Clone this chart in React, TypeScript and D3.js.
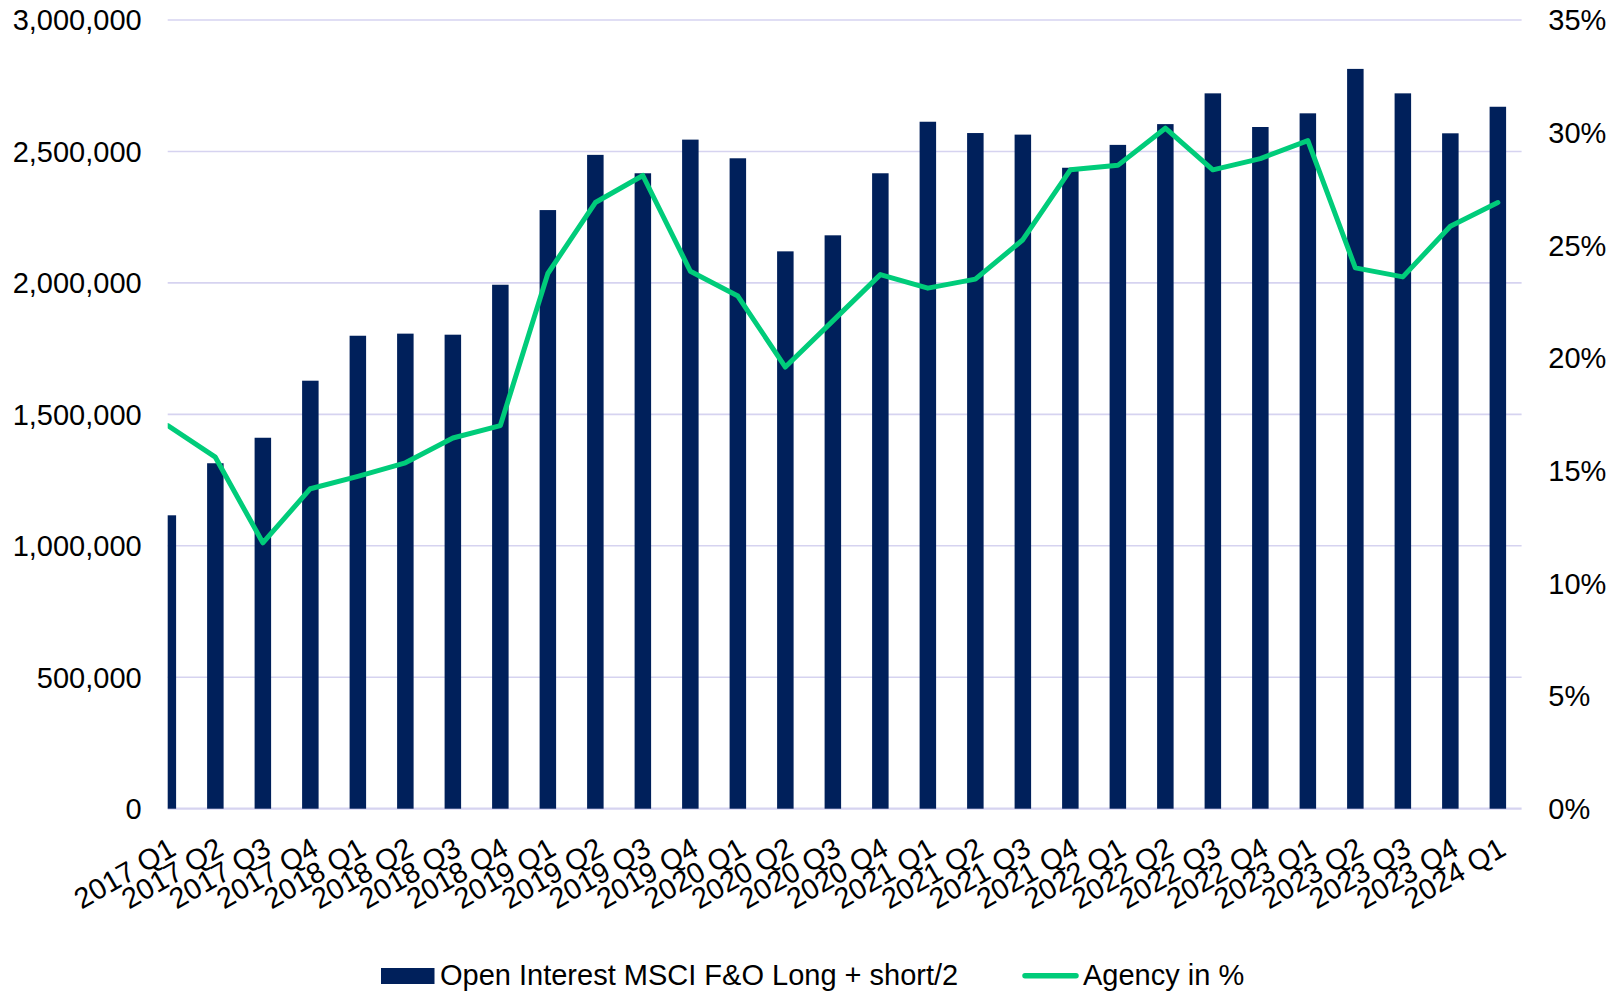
import React from "react";
import * as d3 from "d3";

const categories = [
  "2017 Q1", "2017 Q2", "2017 Q3", "2017 Q4",
  "2018 Q1", "2018 Q2", "2018 Q3", "2018 Q4",
  "2019 Q1", "2019 Q2", "2019 Q3", "2019 Q4",
  "2020 Q1", "2020 Q2", "2020 Q3", "2020 Q4",
  "2021 Q1", "2021 Q2", "2021 Q3", "2021 Q4",
  "2022 Q1", "2022 Q2", "2022 Q3", "2022 Q4",
  "2023 Q1", "2023 Q2", "2023 Q3", "2023 Q4",
  "2024 Q1",
];

const openInterest = [
  1116000, 1314000, 1411000, 1628000,
  1799000, 1807000, 1803000, 1993000,
  2277000, 2487000, 2417000, 2545000,
  2474000, 2120000, 2181000, 2417000,
  2613000, 2570000, 2564000, 2438000,
  2525000, 2604000, 2721000, 2593000,
  2645000, 2814000, 2721000, 2569000,
  2670000,
];

const agencyPct = [
  17.0, 15.6, 11.8, 14.2,
  14.75, 15.35, 16.45, 17.0,
  23.75, 26.9, 28.1, 23.85,
  22.75, 19.6, 21.65, 23.7,
  23.1, 23.5, 25.25, 28.35,
  28.55, 30.2, 28.35, 28.85,
  29.65, 24.0, 23.6, 25.85,
  26.9,
];

const leftTicks = [0, 500000, 1000000, 1500000, 2000000, 2500000, 3000000];
const rightTicks = [0, 5, 10, 15, 20, 25, 30, 35];

const seriesNames = ["Open Interest MSCI F&O Long + short/2", "Agency in %"];

const NAVY = "#00205B";
const GREEN = "#00CC7A";
const GRID = "#D6D3F0";
const FONT = "'Liberation Sans', Arial, Helvetica, sans-serif";

export default function App() {
  const W = 1611;
  const H = 993;
  const plotLeft = 167.7;
  const plotRight = 1521.6;
  const plotTop = 20;
  const plotBottom = 808.7;

  const bandW = 47.5;
  const x = d3
    .scaleBand<string>()
    .domain(categories)
    .range([plotRight - categories.length * bandW, plotRight])
    .paddingInner(0)
    .paddingOuter(0);
  const cx = (c: string) => (x(c) as number) + x.bandwidth() / 2;

  const yL = d3.scaleLinear().domain([0, 3000000]).range([plotBottom, plotTop]);
  const yR = d3.scaleLinear().domain([0, 35]).range([plotBottom, plotTop]);

  const barW = 16.5;
  const fmt = d3.format(",");

  const line = d3
    .line<number>()
    .x((_, i) => cx(categories[i]))
    .y((d) => yR(d));

  return (
    <svg
      width={W}
      height={H}
      style={{ position: "absolute", left: 0, top: 0, display: "block", background: "#fff" }}
      fontFamily={FONT}
    >
      <defs>
        <clipPath id="plotClip">
          <rect x={plotLeft} y={0} width={plotRight - plotLeft} height={H} />
        </clipPath>
      </defs>

      {/* gridlines */}
      {leftTicks.map((t) => (
        <line
          key={"g" + t}
          x1={plotLeft}
          x2={plotRight}
          y1={yL(t)}
          y2={yL(t)}
          stroke={GRID}
          strokeWidth={t === 0 ? 2.2 : 1.6}
        />
      ))}

      {/* bars */}
      <g clipPath="url(#plotClip)">
        {openInterest.map((v, i) => (
          <rect
            key={"b" + i}
            x={cx(categories[i]) - barW / 2}
            y={yL(v)}
            width={barW}
            height={yL(0) - yL(v)}
            fill={NAVY}
          />
        ))}
        <path
          d={line(agencyPct) || ""}
          fill="none"
          stroke={GREEN}
          strokeWidth={5}
          strokeLinejoin="round"
          strokeLinecap="round"
        />
      </g>

      {/* left axis labels */}
      {leftTicks.map((t) => (
        <text
          key={"l" + t}
          x={141.7}
          y={yL(t)}
          dy="0.36em"
          textAnchor="end"
          fontSize={29}
          fill="#000"
        >
          {fmt(t)}
        </text>
      ))}

      {/* right axis labels */}
      {rightTicks.map((t) => (
        <text
          key={"r" + t}
          x={1548.3}
          y={yR(t)}
          dy="0.36em"
          textAnchor="start"
          fontSize={29}
          fill="#000"
        >
          {t + "%"}
        </text>
      ))}

      {/* x axis labels */}
      {categories.map((c) => {
        const ax = cx(c) + 10;
        const ay = 854;
        return (
          <text
            key={"x" + c}
            x={ax}
            y={ay}
            textAnchor="end"
            fontSize={29}
            fill="#000"
            transform={`rotate(-30, ${ax}, ${ay})`}
          >
            {c}
          </text>
        );
      })}

      {/* legend */}
      <rect x={381} y={968} width={53.5} height={16} fill={NAVY} />
      <text x={440} y={985} fontSize={29} fill="#000">
        {seriesNames[0]}
      </text>
      <line
        x1={1025}
        x2={1076}
        y1={975.7}
        y2={975.7}
        stroke={GREEN}
        strokeWidth={5.5}
        strokeLinecap="round"
      />
      <text x={1083} y={985} fontSize={29} fill="#000">
        {seriesNames[1]}
      </text>
    </svg>
  );
}
